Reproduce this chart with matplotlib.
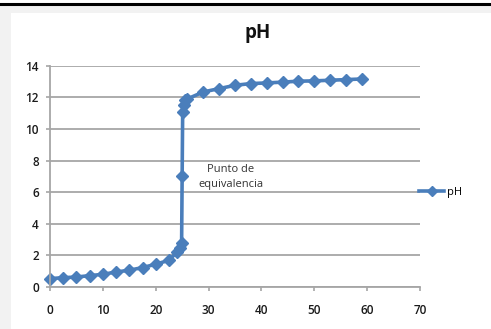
import matplotlib
matplotlib.use("Agg")
import matplotlib.pyplot as plt
from matplotlib.patches import Rectangle
from matplotlib.lines import Line2D

# Titration data: volume of base added vs pH
volume = [0, 2.5, 5, 7.5, 10, 12.5, 15, 17.5, 20, 22.5,
          24, 24.5, 24.9, 25, 25.1, 25.3, 25.6, 26,
          29, 32, 35, 38, 41, 44, 47, 50, 53, 56, 59]
ph = [0.53, 0.59, 0.63, 0.72, 0.80, 0.95, 1.06, 1.23, 1.44, 1.69,
      2.2, 2.45, 2.8, 7.0, 11.1, 11.5, 11.8, 11.9,
      12.34, 12.55, 12.76, 12.87, 12.91, 12.96, 13.02, 13.04, 13.08, 13.12, 13.16]

x_ticks = [0, 10, 20, 30, 40, 50, 60, 70]
y_ticks = [0, 2, 4, 6, 8, 10, 12, 14]

W, H = 491, 329
fig = plt.figure(figsize=(W / 100, H / 100), dpi=100)
fig.patch.set_facecolor("white")

# frame: black rule on top, light gray border, white chart area
fig.add_artist(Rectangle((0, 0), 1, 1 - 5 / H, transform=fig.transFigure,
                         facecolor="#f2f2f2", edgecolor="none", zorder=0))
fig.add_artist(Rectangle((11 / W, 0), 1 - 11 / W, 1 - 13 / H, transform=fig.transFigure,
                         facecolor="white", edgecolor="none", zorder=0))
fig.add_artist(Line2D([0, 1], [1 - 4 / H, 1 - 4 / H], transform=fig.transFigure,
                      color="black", linewidth=2.2, zorder=1))

ax = fig.add_axes([50 / W, (H - 287) / H, 370 / W, (287 - 65.7) / H])
ax.set_facecolor("none")
ax.set_xlim(0, 70)
ax.set_ylim(0, 14)
ax.set_xticks(x_ticks)
ax.set_yticks(y_ticks)
ax.yaxis.grid(True, color="#a6a6a6", linewidth=1.3)
ax.set_axisbelow(True)
for s in ["top", "right"]:
    ax.spines[s].set_visible(False)
for s in ["left", "bottom"]:
    ax.spines[s].set_color("#a6a6a6")
    ax.spines[s].set_linewidth(1.3)
ax.tick_params(axis="both", direction="out", length=3, width=1.2, color="#a6a6a6",
               labelsize=8.5, labelcolor="#1a1a1a")
ax.tick_params(axis="x", pad=9)
ax.tick_params(axis="y", pad=5)
for lab in ax.get_xticklabels() + ax.get_yticklabels():
    lab.set_family("Open Sans")
    lab.set_fontweight("semibold")

line, = ax.plot(volume, ph, color="#4a7ebb", linewidth=2.6, marker="D",
                markersize=6.5, markeredgecolor="#4a7ebb", markerfacecolor="#4a7ebb",
                label="pH", clip_on=False)

ax.text(34.2, 6.95, "Punto de\nequivalencia", ha="center", va="center",
        fontsize=8, family="Open Sans", color="#333333", linespacing=1.45)

fig.text(258 / W, 1 - 33 / H, "pH", ha="center", va="center", fontsize=13.5,
         fontweight="bold", family="Open Sans", color="#111111")

fig.legend(handles=[line], labels=["pH"], loc="center left",
           bbox_to_anchor=(415 / W, 1 - 192 / H), frameon=False,
           handlelength=2.2, handletextpad=0.3, borderaxespad=0, markerscale=0.8,
           prop={"family": "Open Sans", "size": 8})

fig.savefig("out.png", dpi=100)
